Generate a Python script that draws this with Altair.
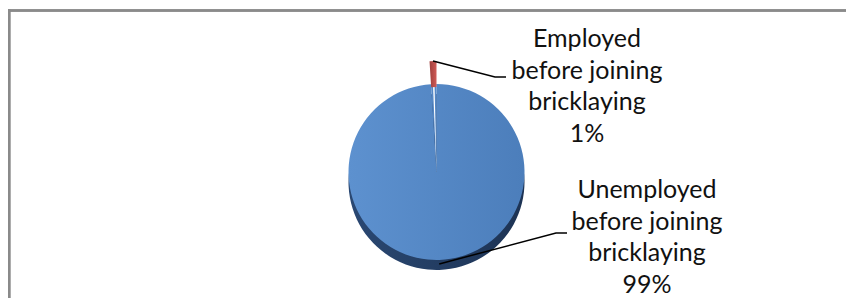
import math
import altair as alt
import pandas as pd

# ---- data ----
categories = ["Unemployed before joining bricklaying", "Employed before joining bricklaying"]
label_lines = [["Unemployed", "before joining", "bricklaying"],
               ["Employed", "before joining", "bricklaying"]]
shares = [99, 1]

# ---- layout constants (chart pixel space) ----
W, H = 838, 290
CX, CY, R = 428.5, 164, 88
DEPTH = 10
EXPLODE = 23
label_pos = {categories[0]: (639, 190), categories[1]: (579, 39)}
elbows = {categories[0]: [(548, 225), (559, 225)],
          categories[1]: [(487, 69), (498, 69)]}

df = pd.DataFrame({"category": categories, "share": shares})
df["end"] = df["share"].cumsum()
df["start"] = df["end"] - df["share"]
df["label"] = ["\n".join(l + [f"{s}%"]) for l, s in zip(label_lines, shares)]
df["tx"] = [label_pos[c][0] for c in categories]
df["ty"] = [label_pos[c][1] for c in categories]

# leader lines, anchored on the slices
rows = []
for c, st, en in zip(df["category"], df["start"], df["end"]):
    mid = (st + en) / 2 / 100 * 2 * math.pi
    if c == categories[1]:
        r, cy = R + EXPLODE, CY
    else:
        r, cy = R - 2, CY + DEPTH - 4
    ax = CX + r * math.sin(mid)
    ay = cy - r * math.cos(mid)
    pts = [(ax, ay)] + elbows[c]
    for i, (px, py) in enumerate(pts):
        rows.append({"category": c, "i": i, "px": px, "py": py})
lines_df = pd.DataFrame(rows)

theta = alt.Theta("start:Q", scale=alt.Scale(domain=[0, 100]))
theta2 = alt.Theta2("end:Q")

top_grad = alt.Gradient(gradient="linear", x1=0, x2=1, y1=0, y2=0,
                        stops=[alt.GradientStop(color="#5D91CF", offset=0),
                               alt.GradientStop(color="#4C7EBB", offset=1)])
side_grad = alt.Gradient(gradient="linear", x1=0, x2=1, y1=0, y2=0,
                         stops=[alt.GradientStop(color="#2A4872", offset=0),
                                alt.GradientStop(color="#1D3354", offset=1)])
red_grad = alt.Gradient(gradient="linear", x1=0, x2=1, y1=0, y2=0,
                        stops=[alt.GradientStop(color="#9E3F3C", offset=0),
                               alt.GradientStop(color="#D05B57", offset=1)])

base = alt.Chart(df)
pos = dict(x=alt.value(CX), y=alt.value(CY))

side = base.mark_arc(radius=R, color=side_grad).encode(
    theta=theta, theta2=theta2, x=alt.value(CX), y=alt.value(CY + DEPTH))
top = base.transform_filter(alt.datum.category == categories[0]).mark_arc(
    radius=R, color=top_grad).encode(theta=theta, theta2=theta2, **pos)
gap_fill = base.transform_filter(alt.datum.category == categories[1]).mark_arc(
    radius=R, color="#5487C5").encode(theta=theta, theta2=theta2, **pos)
gap_line = base.transform_filter(alt.datum.category == categories[1]).mark_arc(
    radius=R - 3, color="#FFFFFF", padAngle=0.045).encode(theta=theta, theta2=theta2, **pos)
red = base.transform_filter(alt.datum.category == categories[1]).mark_arc(
    radius=R + EXPLODE, radius2=R - 3, color=red_grad).encode(theta=theta, theta2=theta2, **pos)

leaders = alt.Chart(lines_df).mark_line(color="#000000", strokeWidth=1.5).encode(
    x=alt.X("px:Q", scale=None, axis=None),
    y=alt.Y("py:Q", scale=None, axis=None),
    detail="category:N",
    order="i:O",
)

labels = base.mark_text(font="Lato", fontSize=25, lineBreak="\n", lineHeight=31.5,
                        align="center", baseline="alphabetic", color="#111111").encode(
    x=alt.X("tx:Q", scale=None, axis=None),
    y=alt.Y("ty:Q", scale=None, axis=None),
    text="label:N",
)

# frame: only the top and left edges fall inside the picture
border_top = alt.Chart(df).mark_rule(color="#8A8A8A", strokeWidth=2.5).encode(
    x=alt.value(0), x2=alt.value(W), y=alt.value(2.6))
border_left = alt.Chart(df).mark_rule(color="#8A8A8A", strokeWidth=2.5).encode(
    x=alt.value(1.2), y=alt.value(1.4), y2=alt.value(H))

chart = alt.layer(side, top, gap_fill, gap_line, red, leaders, labels,
                  border_top, border_left).properties(
    width=W, height=H, padding=0, autosize="none",
    view=alt.ViewBackground(strokeWidth=0, strokeOpacity=0, stroke="transparent"),
)

chart.save("out.html", embed_options={"renderer": "svg", "actions": False})
